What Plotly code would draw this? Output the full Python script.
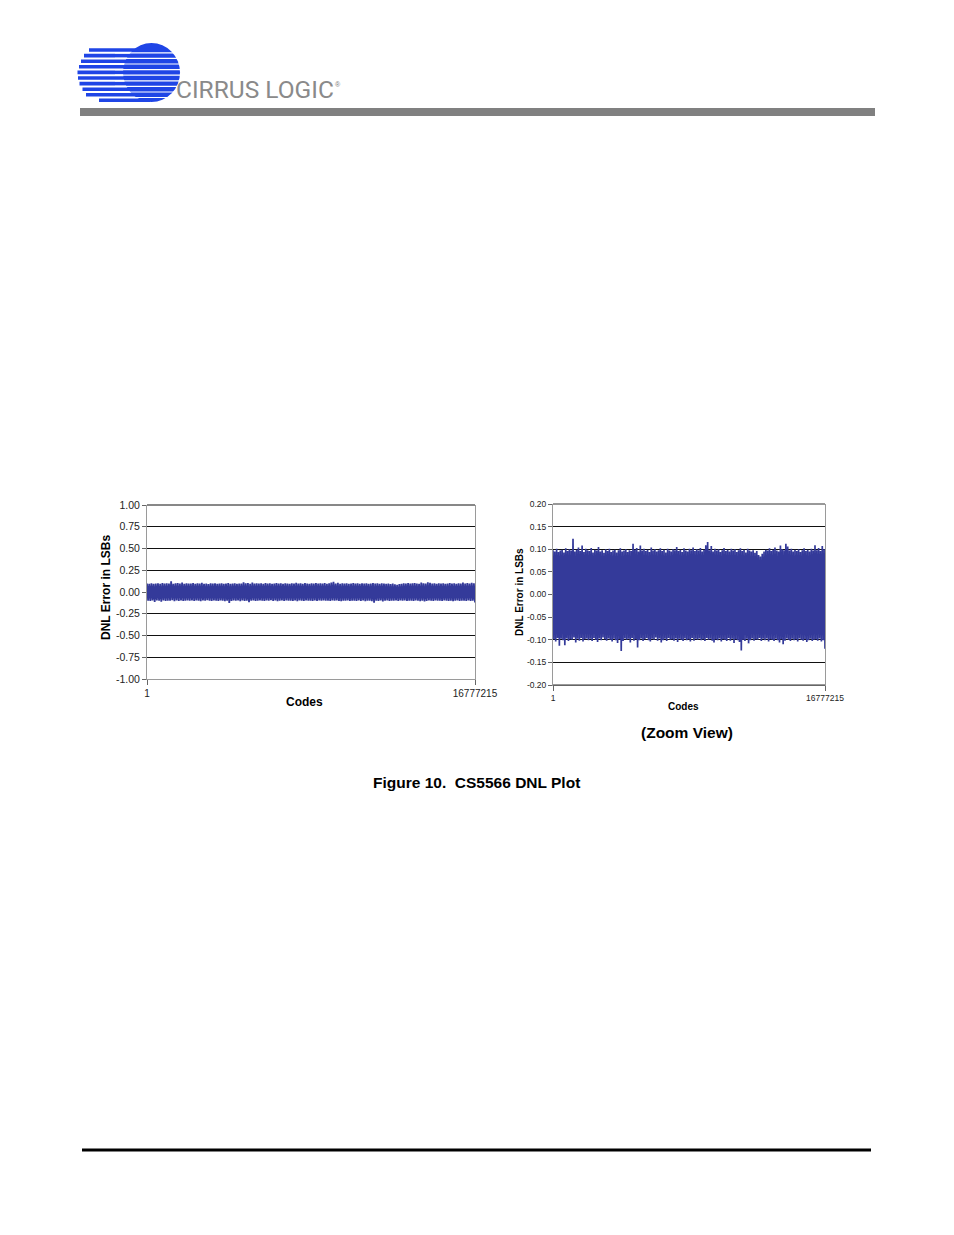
import plotly.graph_objects as go

# ---------------- data ----------------
code_min = 1
code_max = 16777215
x_tick_vals = [1, 16777215]
x_tick_text = ["1", "16777215"]

left_y_ticks = [1.00, 0.75, 0.50, 0.25, 0.00, -0.25, -0.50, -0.75, -1.00]
right_y_ticks = [0.20, 0.15, 0.10, 0.05, 0.00, -0.05, -0.10, -0.15, -0.20]

# per-bin maximum DNL (LSB), 150 bins across the code range
dnl_upper = [
    0.098, 0.095, 0.101, 0.094, 0.097, 0.099, 0.093, 0.102, 0.096, 0.100,
    0.097, 0.123, 0.095, 0.099, 0.104, 0.096, 0.108, 0.094, 0.101, 0.098,
    0.096, 0.103, 0.093, 0.099, 0.097, 0.105, 0.095, 0.098, 0.092, 0.100,
    0.096, 0.101, 0.094, 0.097, 0.099, 0.093, 0.098, 0.102, 0.095, 0.097,
    0.100, 0.094, 0.098, 0.096, 0.112, 0.099, 0.103, 0.095, 0.108, 0.097,
    0.101, 0.096, 0.099, 0.094, 0.104, 0.097, 0.100, 0.095, 0.098, 0.102,
    0.096, 0.099, 0.093, 0.101, 0.097, 0.095, 0.100, 0.098, 0.105, 0.096,
    0.099, 0.094, 0.102, 0.097, 0.095, 0.101, 0.098, 0.104, 0.096, 0.100,
    0.097, 0.103, 0.095, 0.099, 0.109, 0.116, 0.098, 0.107, 0.095, 0.101,
    0.097, 0.100, 0.094, 0.098, 0.103, 0.096, 0.099, 0.095, 0.101, 0.097,
    0.100, 0.094, 0.098, 0.102, 0.096, 0.099, 0.093, 0.101, 0.097, 0.095,
    0.098, 0.092, 0.096, 0.087, 0.084, 0.090, 0.095, 0.099, 0.097, 0.102,
    0.096, 0.099, 0.104, 0.097, 0.095, 0.108, 0.100, 0.098, 0.112, 0.106,
    0.097, 0.101, 0.095, 0.099, 0.096, 0.100, 0.094, 0.098, 0.102, 0.096,
    0.099, 0.095, 0.101, 0.097, 0.109, 0.098, 0.103, 0.096, 0.107, 0.100,
]
# per-bin minimum DNL (LSB)
dnl_lower = [
    -0.099, -0.104, -0.096, -0.113, -0.098, -0.101, -0.112, -0.097, -0.103, -0.099,
    -0.100, -0.095, -0.106, -0.098, -0.102, -0.096, -0.104, -0.099, -0.097, -0.101,
    -0.098, -0.103, -0.096, -0.100, -0.105, -0.097, -0.101, -0.095, -0.099, -0.102,
    -0.097, -0.100, -0.104, -0.098, -0.101, -0.107, -0.099, -0.125, -0.103, -0.097,
    -0.100, -0.098, -0.106, -0.096, -0.102, -0.099, -0.117, -0.101, -0.097, -0.103,
    -0.099, -0.096, -0.101, -0.104, -0.098, -0.100, -0.095, -0.102, -0.097, -0.106,
    -0.101, -0.098, -0.103, -0.096, -0.100, -0.099, -0.102, -0.097, -0.105, -0.098,
    -0.100, -0.103, -0.097, -0.101, -0.099, -0.104, -0.096, -0.102, -0.098, -0.100,
    -0.097, -0.101, -0.099, -0.103, -0.096, -0.100, -0.098, -0.102, -0.106, -0.099,
    -0.101, -0.097, -0.104, -0.099, -0.100, -0.103, -0.096, -0.102, -0.098, -0.107,
    -0.099, -0.101, -0.105, -0.124, -0.100, -0.103, -0.098, -0.108, -0.101, -0.097,
    -0.102, -0.099, -0.100, -0.096, -0.103, -0.098, -0.101, -0.097, -0.104, -0.099,
    -0.100, -0.103, -0.098, -0.101, -0.106, -0.099, -0.110, -0.102, -0.097, -0.100,
    -0.103, -0.098, -0.101, -0.099, -0.104, -0.097, -0.100, -0.102, -0.099, -0.105,
    -0.101, -0.098, -0.103, -0.100, -0.099, -0.102, -0.097, -0.104, -0.101, -0.120,
]

# ---------------- build the trace (alternate max/min per bin) ----------------
n_pts = 2 * len(dnl_upper)
span = code_max - code_min
xs, ys = [], []
for i, (hi, lo) in enumerate(zip(dnl_upper, dnl_lower)):
    xs.append(code_min + span * (2 * i) / (n_pts - 1))
    ys.append(hi)
    xs.append(code_min + span * (2 * i + 1) / (n_pts - 1))
    ys.append(lo)

W, H = 954, 1235
def px(x):
    return x / W
def py(y):
    return 1 - y / H

BAND = "#343A9A"
FONT = "Liberation Sans, Arial, sans-serif"

fig = go.Figure()
fig.add_trace(go.Scatter(x=xs, y=ys, mode="lines", line=dict(color=BAND, width=1.8),
                         xaxis="x", yaxis="y", showlegend=False, hoverinfo="skip"))
fig.add_trace(go.Scatter(x=xs, y=ys, mode="lines", line=dict(color=BAND, width=1.7),
                         xaxis="x2", yaxis="y2", showlegend=False, hoverinfo="skip"))

def xax(domain, fs, anchor):
    return dict(domain=domain, range=[code_min, code_max], tickvals=x_tick_vals,
                ticktext=x_tick_text, showgrid=False, zeroline=False, showline=True,
                linecolor="#9a9a9a", linewidth=1, ticks="outside", ticklen=5,
                tickcolor="#666666", tickfont=dict(family=FONT, size=fs, color="#222"),
                anchor=anchor, fixedrange=True)

def yax(domain, rng, ticks, fs, anchor):
    return dict(domain=domain, range=rng, tickvals=ticks,
                ticktext=["%.2f" % t for t in ticks], showgrid=True,
                gridcolor="#111111", gridwidth=1, zeroline=False, showline=True,
                linecolor="#9a9a9a", linewidth=1, mirror=True, ticks="outside",
                ticklen=4, tickcolor="#666666",
                tickfont=dict(family=FONT, size=fs, color="#222"), anchor=anchor,
                fixedrange=True)

fig.update_layout(
    width=W, height=H, margin=dict(l=0, r=0, t=0, b=0, pad=0, autoexpand=False),
    paper_bgcolor="white", plot_bgcolor="white", showlegend=False,
    xaxis=xax([px(147), px(475)], 10, "y"),
    yaxis=yax([py(679), py(505)], [-1, 1], left_y_ticks, 10.5, "x"),
    xaxis2=xax([px(553), px(825)], 8.5, "y2"),
    yaxis2=yax([py(685), py(504)], [-0.2, 0.2], right_y_ticks, 8.5, "x2"),
)

shapes = []
# top / bottom borders of plot areas
shapes.append(dict(type="line", xref="paper", yref="paper", x0=px(147), x1=px(475),
                   y0=py(505), y1=py(505), line=dict(color="#111111", width=1)))
shapes.append(dict(type="line", xref="paper", yref="paper", x0=px(553), x1=px(825),
                   y0=py(504), y1=py(504), line=dict(color="#333333", width=1)))
shapes.append(dict(type="line", xref="paper", yref="paper", x0=px(553), x1=px(825),
                   y0=py(685), y1=py(685), line=dict(color="#333333", width=1)))

# header grey bar
shapes.append(dict(type="rect", xref="paper", yref="paper", x0=px(80), x1=px(875),
                   y0=py(116), y1=py(108), fillcolor="#808080", line=dict(width=0)))
# footer black rule
shapes.append(dict(type="rect", xref="paper", yref="paper", x0=px(82), x1=px(871),
                   y0=py(1151.5), y1=py(1148.5), fillcolor="#000000", line=dict(width=0)))

# logo: blue ball with stripes
LOGO = "#1F45E6"
shapes.append(dict(type="circle", xref="paper", yref="paper", x0=px(123), x1=px(180),
                   y0=py(102), y1=py(43), fillcolor=LOGO, line=dict(width=0)))
stripe_rows = [(89, 50), (84, 55.6), (81, 61.2), (79, 66.8), (77.5, 72.4),
               (78, 78), (79.5, 83.6), (82.5, 89.2), (86, 94.8), (99, 100.2)]
for xl, yc in stripe_rows:
    shapes.append(dict(type="rect", xref="paper", yref="paper", x0=px(xl), x1=px(150),
                       y0=py(yc + 1.8), y1=py(yc - 1.8), fillcolor=LOGO, line=dict(width=0)))
for (xl, yc), (xl2, yc2) in zip(stripe_rows[:-1], stripe_rows[1:]):
    ym = (yc + yc2) / 2
    shapes.append(dict(type="rect", xref="paper", yref="paper", x0=px(115), x1=px(182),
                       y0=py(ym + 0.6), y1=py(ym - 0.6), fillcolor="white", line=dict(width=0)))
fig.update_layout(shapes=shapes)

ann = []
def text(x, y, t, size, color="#000", angle=0, xanchor="center", font=FONT):
    ann.append(dict(x=px(x), y=py(y), xref="paper", yref="paper", text=t, showarrow=False,
                    xanchor=xanchor, yanchor="middle", textangle=angle,
                    font=dict(family=font, size=size, color=color)))

text(174, 89, "CIRRUS LOGIC", 24.5, color="#8a8a8a", xanchor="left", font="Roboto")
text(338, 84, "®", 7, color="#7a7a7a")
text(106, 588, "<b>DNL Error in LSBs</b>", 12, angle=-90)
text(304, 702, "<b>Codes</b>", 12)
text(519, 592, "<b>DNL Error in LSBs</b>", 10, angle=-90)
text(683, 706, "<b>Codes</b>", 10)
text(687, 732, "<b>(Zoom View)</b>", 15.5)
text(476, 782, "<b>Figure 10.\u00a0 CS5566 DNL Plot</b>", 15.5)
fig.update_layout(annotations=ann)

fig.write_html("out.html",
               config={"displayModeBar": False, "staticPlot": True},
               post_script="document.body.style.margin='0';"
                           "document.body.style.overflow='hidden';")
